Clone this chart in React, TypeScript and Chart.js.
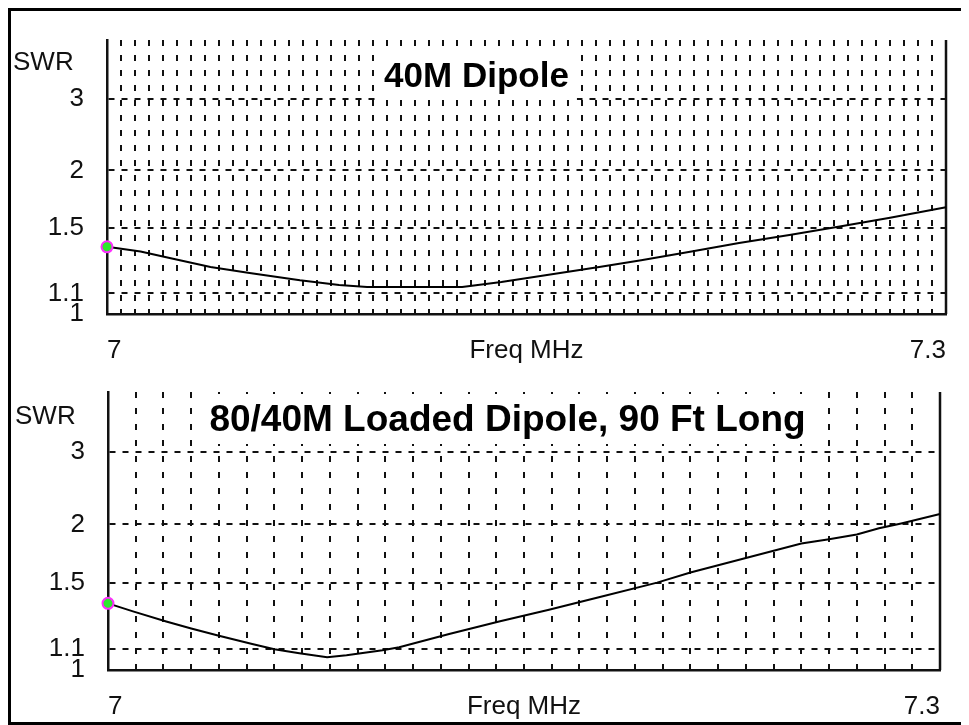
import React, { useEffect, useRef } from 'react';
import { Chart, registerables, LinearScale } from 'chart.js';

Chart.register(...registerables);

// ---------- data ----------
const FREQ_MIN = 7.0;
const FREQ_MAX = 7.3;
const X_LABELS = ['7', '7.3'];
const X_TITLE = 'Freq MHz';
const Y_TITLE = 'SWR';
const SWR_MIN = 1;
const SWR_MAX = 4.5;
const SWR_TICKS = [1, 1.1, 1.5, 2, 3];
const SWR_TICK_LABELS = ['1', '1.1', '1.5', '2', '3'];

const DIPOLE_TITLE = '40M Dipole';
const DIPOLE_FREQ = [7.0, 7.012, 7.022, 7.037, 7.051, 7.069, 7.083, 7.093, 7.127, 7.141, 7.162, 7.176, 7.191, 7.209, 7.226, 7.244, 7.262, 7.28, 7.3];
const DIPOLE_SWR = [1.37, 1.34, 1.3, 1.245, 1.21, 1.17, 1.145, 1.134, 1.134, 1.16, 1.21, 1.245, 1.285, 1.34, 1.395, 1.45, 1.51, 1.575, 1.66];

const LOADED_TITLE = '80/40M Loaded Dipole, 90 Ft Long';
const LOADED_FREQ = [7.0, 7.009, 7.021, 7.03, 7.04, 7.052, 7.06, 7.069, 7.079, 7.086, 7.099, 7.105, 7.123, 7.141, 7.159, 7.177, 7.198, 7.21, 7.23, 7.25, 7.26, 7.27, 7.278, 7.286, 7.3];
const LOADED_SWR = [1.36, 1.31, 1.25, 1.21, 1.17, 1.127, 1.1, 1.08, 1.06, 1.07, 1.095, 1.11, 1.18, 1.25, 1.32, 1.4, 1.5, 1.575, 1.69, 1.815, 1.855, 1.9, 1.96, 2.01, 2.11];

// ---------- styling ----------
const FONT = '"Liberation Sans", Arial, Helvetica, sans-serif';
const INK = '#111';
const LABEL_SIZE = 26;

Chart.defaults.font.family = FONT;
Chart.defaults.color = INK;

const rho = (s: number) => (s - 1) / (s + 1);

// SWR axis: linear in reflection coefficient
class SwrScale extends LinearScale {
  static id = 'swr';
  static defaults = {};
  getPixelForValue(value: number) {
    if (value === null || value === undefined) return NaN;
    const r0 = rho((this as any).min);
    const r1 = rho((this as any).max);
    return this.getPixelForDecimal((rho(value) - r0) / (r1 - r0));
  }
  getValueForPixel(pixel: number) {
    const r0 = rho((this as any).min);
    const r1 = rho((this as any).max);
    const r = r0 + this.getDecimalForPixel(pixel) * (r1 - r0);
    return (1 + r) / (1 - r);
  }
}
Chart.register(SwrScale as any);

const decorPlugin = {
  id: 'decor',
  beforeDatasetsDraw(chart: any, _args: any, opts: any) {
    const { ctx, chartArea: a, scales } = chart;
    const xs = scales.x;
    ctx.save();
    // small inner tick marks on the bottom axis
    ctx.strokeStyle = INK;
    ctx.lineWidth = 2;
    ctx.beginPath();
    xs.ticks.forEach((t: any) => {
      const px = Math.round(xs.getPixelForValue(t.value));
      ctx.moveTo(px, a.bottom);
      ctx.lineTo(px, a.bottom - 5);
    });
    ctx.stroke();
    // right frame edge
    ctx.lineWidth = 2.5;
    ctx.beginPath();
    ctx.moveTo(a.right, a.top);
    ctx.lineTo(a.right, a.bottom);
    ctx.stroke();
    // title with white backing
    ctx.font = `bold ${opts.titleSize}px ${FONT}`;
    const w = ctx.measureText(opts.title).width;
    ctx.fillStyle = '#fff';
    ctx.fillRect(opts.titleX - w / 2 - 8, opts.titleY - 27, w + 16, 50);
    ctx.fillStyle = '#000';
    ctx.textAlign = 'center';
    ctx.textBaseline = 'middle';
    ctx.fillText(opts.title, opts.titleX, opts.titleY);
    ctx.restore();
  },
  afterDraw(chart: any, _args: any, opts: any) {
    const { ctx, chartArea: a } = chart;
    ctx.save();
    ctx.fillStyle = INK;
    ctx.font = `${LABEL_SIZE}px ${FONT}`;
    ctx.textBaseline = 'middle';
    ctx.textAlign = 'left';
    ctx.fillText(Y_TITLE, opts.swrX, opts.swrY);
    ctx.textAlign = 'center';
    ctx.fillText(X_TITLE, (a.left + a.right) / 2, a.bottom + opts.xPad + (LABEL_SIZE * 1.2) / 2);
    ctx.restore();
  },
};

type Props = {
  width: number;
  height: number;
  freq: number[];
  swr: number[];
  gridStep: number;
  padTop: number;
  padRight: number;
  axisW: number;
  axisH: number;
  dashX: number[];
  title: string;
  titleSize: number;
  titleX: number;
  titleY: number;
  swrX: number;
  swrY: number;
};

function SwrChart(p: Props) {
  const ref = useRef<HTMLCanvasElement>(null);
  useEffect(() => {
    const xPad = 21;
    const chart = new Chart(ref.current as HTMLCanvasElement, {
      type: 'line',
      data: {
        datasets: [
          {
            data: p.freq.map((f, i) => ({ x: f, y: p.swr[i] })),
            borderColor: '#000',
            borderWidth: 2,
            tension: 0,
            fill: false,
            clip: false as any,
            pointRadius: p.freq.map((_, i) => (i === 0 ? 5.5 : 0)),
            pointBackgroundColor: '#2ee82e',
            pointBorderColor: '#ff2cff',
            pointBorderWidth: 2,
          },
        ],
      },
      options: {
        responsive: false,
        animation: false,
        layout: { padding: { top: p.padTop, right: p.padRight, left: 0, bottom: 0 } },
        plugins: {
          legend: { display: false },
          tooltip: { enabled: false },
          decor: {
            title: p.title,
            titleSize: p.titleSize,
            titleX: p.titleX,
            titleY: p.titleY,
            swrX: p.swrX,
            swrY: p.swrY,
            xPad,
          },
        } as any,
        scales: {
          x: {
            type: 'linear',
            min: FREQ_MIN,
            max: FREQ_MAX,
            afterBuildTicks: (s: any) => {
              const n = Math.round((FREQ_MAX - FREQ_MIN) / p.gridStep);
              s.ticks = Array.from({ length: n + 1 }, (_, i) => ({ value: FREQ_MIN + i * p.gridStep }));
            },
            afterFit: (s: any) => {
              s.height = p.axisH;
              s.paddingLeft = 0;
              s.paddingRight = 0;
            },
            ticks: {
              autoSkip: false,
              maxRotation: 0,
              minRotation: 0,
              align: 'inner',
              padding: xPad,
              color: INK,
              font: { size: LABEL_SIZE, family: FONT },
              callback: (_v: any, i: number, ticks: any[]) =>
                i === 0 ? X_LABELS[0] : i === ticks.length - 1 ? X_LABELS[1] : '',
            },
            grid: { color: '#111', lineWidth: 2, drawTicks: false },
            border: { display: true, color: INK, width: 2.5, dash: p.dashX },
          },
          y: {
            type: 'swr' as any,
            min: SWR_MIN,
            max: SWR_MAX,
            afterBuildTicks: (s: any) => {
              s.ticks = SWR_TICKS.map((v) => ({ value: v }));
            },
            afterFit: (s: any) => {
              s.width = p.axisW;
              s.paddingTop = 0;
              s.paddingBottom = 0;
            },
            ticks: {
              autoSkip: false,
              padding: 23,
              color: INK,
              font: { size: LABEL_SIZE, family: FONT },
              callback: (v: any) => {
                const i = SWR_TICKS.indexOf(Number(v));
                return i >= 0 ? SWR_TICK_LABELS[i] : '';
              },
            },
            grid: { color: '#111', lineWidth: 2, drawTicks: false },
            border: { display: true, color: INK, width: 2.5, dash: [6, 7] },
          },
        } as any,
      },
      plugins: [decorPlugin as any],
    });
    return () => chart.destroy();
  }, []);
  return (
    <canvas
      ref={ref}
      width={p.width}
      height={p.height}
      style={{ display: 'block', width: p.width, height: p.height }}
    />
  );
}

export default function App() {
  return (
    <div
      style={{
        border: '3px solid #000',
        width: 951,
        height: 711,
        background: '#fff',
        overflow: 'hidden',
      }}
    >
      <SwrChart
        width={951}
        height={360}
        freq={DIPOLE_FREQ}
        swr={DIPOLE_SWR}
        gridStep={0.005}
        padTop={29}
        padRight={16}
        axisW={96}
        axisH={57}
        dashX={[6, 9]}
        title={DIPOLE_TITLE}
        titleSize={35}
        titleX={465.5}
        titleY={66}
        swrX={2}
        swrY={52}
      />
      <SwrChart
        width={951}
        height={351}
        freq={LOADED_FREQ}
        swr={LOADED_SWR}
        gridStep={0.01}
        padTop={21}
        padRight={22}
        axisW={97}
        axisH={52}
        dashX={[6, 10]}
        title={LOADED_TITLE}
        titleSize={37}
        titleX={496.5}
        titleY={50}
        swrX={4}
        swrY={46}
      />
    </div>
  );
}
